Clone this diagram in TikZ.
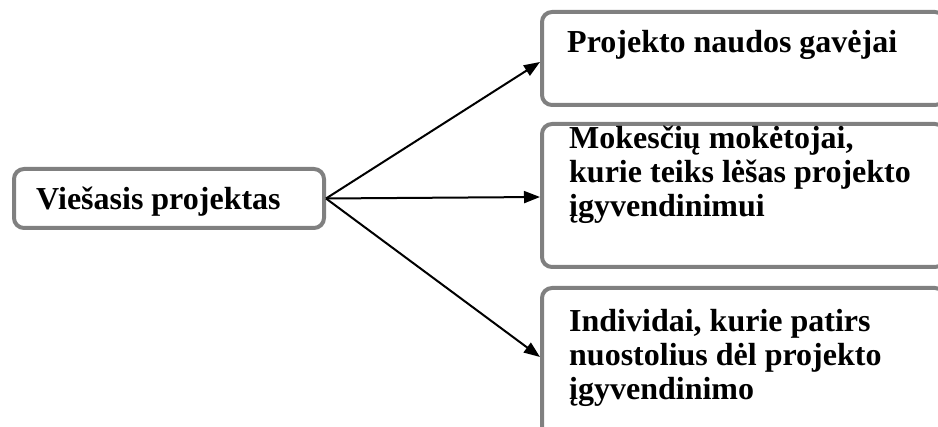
\documentclass[tikz,border=0pt]{standalone}
\usepackage{fontspec}
\setmainfont{Liberation Serif}
\usetikzlibrary{arrows.meta}

\begin{document}
\begin{tikzpicture}[x=1pt,y=-1pt,font=\fontsize{32}{34}\selectfont\bfseries]
            \useasboundingbox (0,0) rectangle (938,427);
            \clip (0,0) rectangle (938,427);
            \begin{scope}[every node/.style={draw=black!50,line width=4pt,rounded corners=10pt,inner sep=0pt,anchor=north west}]
                \node[minimum width=310pt,minimum height=59pt] (src) at (12,167) {};
                \node[minimum width=403pt,minimum height=93pt] (ben) at (540,10) {};
                \node[minimum width=403pt,minimum height=143pt] (tax) at (540,122) {};
                \node[minimum width=403pt,minimum height=152pt] (loss) at (540,286) {};
            \end{scope}
            % base of a multi-line node is its last line
            \begin{scope}[every node/.style={inner sep=0pt,anchor=base west,align=left}]
                \node (srctext) at (36,210) {Viešasis projektas};
                \node (bentext) at (567,53) {Projekto naudos gavėjai};
                \node (taxtext) at (569,217) {Mokesčių mokėtojai,\\kurie teiks lėšas projekto\\įgyvendinimui};
                \node (losstext) at (569,400) {Individai, kurie patirs\\nuostolius dėl projekto\\įgyvendinimo};
            \end{scope}
            \begin{scope}[every edge/.style={draw,line width=2pt,-{Triangle[length=16pt,width=12pt]}}]
                \path (src.east) edge ([yshift=-3.5pt]ben.west);
                \path (src.east) edge ([yshift=-1.5pt]tax.west);
                \path (src.east) edge ([yshift=7pt]loss.west);
            \end{scope}
        \end{tikzpicture}
\end{document}
